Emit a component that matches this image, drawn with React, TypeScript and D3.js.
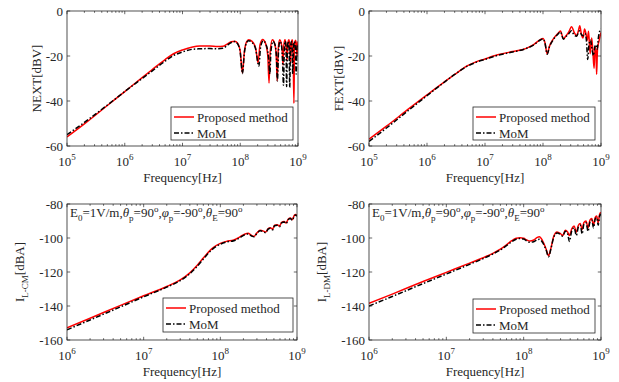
import React from 'react';
import * as d3 from 'd3';

type Pt = [number, number];

// ---------- data (frequency [Hz], value) ----------
const nextProposed: Pt[] = [
  [1e5, -56], [2e5, -50.2], [5e5, -42], [1e6, -35.8], [2e6, -29.6], [3e6, -26], [5e6, -21.6], [7e6, -19],
  [1e7, -17.3], [1.5e7, -16], [2e7, -15.6], [3e7, -15.5], [4e7, -15.8], [5e7, -15.7], [6e7, -14.6], [7e7, -13.7],
  [8e7, -13.4], [9e7, -14.3], [1e8, -18], [1.09e8, -27.5], [1.18e8, -18], [1.28e8, -13.8], [1.4e8, -12.8],
  [1.6e8, -13.5], [1.85e8, -16.5], [2.03e8, -23], [2.2e8, -15], [2.45e8, -12.7], [2.75e8, -14.5], [3.0e8, -20],
  [3.15e8, -32], [3.3e8, -18], [3.6e8, -12.8], [3.95e8, -14.5], [4.2e8, -20], [4.36e8, -31], [4.55e8, -17],
  [4.8e8, -12.8], [5.1e8, -14], [5.35e8, -18], [5.5e8, -24], [5.7e8, -15], [5.95e8, -12.8], [6.2e8, -15],
  [6.45e8, -22], [6.7e8, -14], [6.95e8, -12.8], [7.2e8, -15], [7.45e8, -23], [7.7e8, -14], [7.95e8, -12.8],
  [8.2e8, -16], [8.5e8, -41], [8.7e8, -16], [9.0e8, -13], [9.3e8, -14], [9.6e8, -20], [1e9, -13.5],
];
const nextMoM: Pt[] = [
  [1e5, -55], [2e5, -49.5], [5e5, -41.8], [1e6, -35.8], [2e6, -30], [3e6, -26.6], [5e6, -22.3], [7e6, -19.8],
  [1e7, -18.2], [1.5e7, -17], [2e7, -16.8], [3e7, -16.7], [4e7, -16.8], [5e7, -16.6], [6e7, -15.2], [7e7, -14],
  [8e7, -13.6], [9e7, -14.6], [1e8, -18.5], [1.09e8, -27.8], [1.18e8, -18.5], [1.28e8, -14.2], [1.4e8, -13.2],
  [1.6e8, -14], [1.85e8, -17], [2.1e8, -24.5], [2.25e8, -16], [2.5e8, -13.2], [2.8e8, -15], [3.1e8, -21],
  [3.25e8, -28], [3.4e8, -18], [3.7e8, -13.5], [4.0e8, -15], [4.25e8, -21], [4.4e8, -31], [4.6e8, -18],
  [4.85e8, -13.5], [5.15e8, -15], [5.4e8, -22], [5.6e8, -33], [5.8e8, -17], [6.0e8, -13.5], [6.2e8, -16],
  [6.35e8, -33.6], [6.55e8, -17], [6.8e8, -13.5], [7.0e8, -16], [7.2e8, -34], [7.4e8, -17], [7.7e8, -13.5],
  [7.9e8, -16], [8.1e8, -28], [8.35e8, -16], [8.7e8, -13.5], [9.0e8, -17], [9.3e8, -28], [9.6e8, -16], [1e9, -15],
];

const fextProposed: Pt[] = [
  [1e5, -57], [2e5, -51.2], [5e5, -43.2], [1e6, -37.3], [2e6, -31.5], [3e6, -28.2], [5e6, -24.3], [7e6, -22.6],
  [1e7, -21.3], [1.5e7, -19.8], [2e7, -19], [3e7, -18], [5e7, -16.7], [7e7, -14.8], [9e7, -12.7], [1e8, -12.2],
  [1.08e8, -14], [1.18e8, -19], [1.3e8, -15.5], [1.5e8, -12.5], [1.8e8, -10], [2e8, -8.9], [2.25e8, -12.3],
  [2.5e8, -11], [2.8e8, -9.2], [3.1e8, -7], [3.5e8, -9.8], [3.8e8, -11], [4.1e8, -8.5], [4.3e8, -6.5],
  [4.6e8, -10.5], [4.9e8, -12], [5.2e8, -8], [5.5e8, -10], [5.8e8, -13], [6.1e8, -9], [6.5e8, -19],
  [6.9e8, -12], [7.2e8, -17], [7.6e8, -25.5], [7.9e8, -16], [8.2e8, -18], [8.4e8, -28.2], [8.7e8, -17],
  [9.3e8, -13], [1e9, -9.5],
];
const fextMoM: Pt[] = [
  [1e5, -58], [2e5, -52], [5e5, -43.8], [1e6, -37.6], [2e6, -31.6], [3e6, -28.2], [5e6, -24.5], [7e6, -22.8],
  [1e7, -21.5], [1.5e7, -20], [2e7, -19.2], [3e7, -18.2], [5e7, -16.8], [7e7, -15], [9e7, -12.9], [1e8, -12.4],
  [1.08e8, -14.2], [1.18e8, -19.2], [1.3e8, -15.7], [1.5e8, -12.8], [1.8e8, -10.3], [2e8, -9.3], [2.25e8, -12.5],
  [2.5e8, -11.3], [2.8e8, -10], [3.1e8, -8.8], [3.4e8, -10.5], [3.8e8, -11.2], [4.1e8, -9.5], [4.3e8, -8.8],
  [4.6e8, -10.5], [5e8, -11], [5.3e8, -10], [5.6e8, -13], [5.9e8, -21.5], [6.2e8, -15], [6.6e8, -13],
  [7e8, -17], [7.4e8, -19.8], [7.8e8, -16], [8.2e8, -15], [8.6e8, -17], [9.0e8, -12], [9.5e8, -9], [1e9, -8],
];

const cmProposed: Pt[] = [
  [1e6, -152.8], [2e6, -147.2], [5e6, -139.6], [1e7, -134], [2e7, -128.5], [3e7, -124.7], [4e7, -120.5],
  [5e7, -116], [6e7, -111.8], [7e7, -108.3], [8e7, -105.8], [1e8, -103.2], [1.2e8, -102], [1.5e8, -101.2],
  [1.8e8, -99.3], [2.1e8, -97.6], [2.3e8, -97.2], [2.55e8, -98.5], [2.75e8, -99], [3.0e8, -97], [3.3e8, -95.5],
  [3.6e8, -95.8], [3.9e8, -96.5], [4.2e8, -94.5], [4.5e8, -94], [4.8e8, -94.8], [5.1e8, -92.5], [5.5e8, -92.2],
  [5.9e8, -93], [6.3e8, -90.8], [6.8e8, -90.3], [7.2e8, -91.2], [7.7e8, -88.8], [8.2e8, -88.3], [8.7e8, -89.2],
  [9.2e8, -86.8], [9.6e8, -86.2], [1e9, -86.8],
];
const cmMoM: Pt[] = [
  [1e6, -154], [2e6, -148.2], [5e6, -140.5], [1e7, -134.6], [2e7, -128.9], [3e7, -125.1], [4e7, -121],
  [5e7, -116.6], [6e7, -112.4], [7e7, -108.9], [8e7, -106.4], [1e8, -103.7], [1.2e8, -102.4], [1.5e8, -101.6],
  [1.8e8, -99.8], [2.1e8, -98], [2.3e8, -97.6], [2.55e8, -98.8], [2.75e8, -99.3], [3.0e8, -97.3], [3.3e8, -95.8],
  [3.6e8, -96.1], [3.9e8, -96.9], [4.2e8, -94.8], [4.5e8, -94.3], [4.8e8, -95.2], [5.1e8, -92.8], [5.5e8, -92.5],
  [5.9e8, -93.4], [6.3e8, -91.1], [6.8e8, -90.6], [7.2e8, -91.6], [7.7e8, -89.1], [8.2e8, -88.6], [8.7e8, -89.6],
  [9.2e8, -87.1], [9.6e8, -86.5], [1e9, -87.2],
];

const dmProposed: Pt[] = [
  [1e6, -138.4], [2e6, -133], [5e6, -125.6], [1e7, -120.2], [2e7, -114.8], [3e7, -111.6], [4e7, -109],
  [5e7, -106.6], [6e7, -104], [7e7, -101.6], [8e7, -100.2], [9e7, -99.9], [1e8, -100.2], [1.1e8, -101.2],
  [1.2e8, -101.8], [1.35e8, -101.2], [1.5e8, -99.6], [1.6e8, -99.3], [1.75e8, -101.5], [1.95e8, -106.5],
  [2.1e8, -110.5], [2.25e8, -106], [2.45e8, -99], [2.7e8, -96.5], [3.0e8, -97.5], [3.2e8, -98.5], [3.45e8, -95.5],
  [3.7e8, -96.5], [3.9e8, -98.5], [4.2e8, -94.5], [4.5e8, -93], [4.8e8, -96.5], [5.1e8, -92.5], [5.4e8, -91.5],
  [5.7e8, -95], [6.0e8, -91], [6.4e8, -90], [6.8e8, -94], [7.2e8, -89.5], [7.6e8, -88.5], [8.0e8, -92.5],
  [8.4e8, -88], [8.8e8, -87], [9.2e8, -91], [9.6e8, -86], [1e9, -85],
];
const dmMoM: Pt[] = [
  [1e6, -140], [2e6, -134.4], [5e6, -126.8], [1e7, -121.2], [2e7, -115.5], [3e7, -112.1], [4e7, -109.4],
  [5e7, -107], [6e7, -104.5], [7e7, -102.2], [8e7, -100.7], [9e7, -100.3], [1e8, -100.6], [1.1e8, -101.7],
  [1.2e8, -102.5], [1.35e8, -102.2], [1.5e8, -101], [1.6e8, -100.8], [1.75e8, -102.5], [1.95e8, -107],
  [2.1e8, -111], [2.25e8, -106.5], [2.45e8, -99.5], [2.7e8, -97], [3.0e8, -98], [3.2e8, -99], [3.45e8, -96],
  [3.7e8, -97.5], [3.9e8, -102], [4.2e8, -95.5], [4.5e8, -94], [4.8e8, -98.5], [5.1e8, -93.5], [5.4e8, -92.5],
  [5.7e8, -97.5], [6.0e8, -92], [6.4e8, -91], [6.8e8, -96], [7.2e8, -90.5], [7.6e8, -89.5], [8.0e8, -94],
  [8.4e8, -89], [8.8e8, -88], [9.2e8, -92.5], [9.6e8, -87], [1e9, -86],
];

const xTicksTop = [1e5, 1e6, 1e7, 1e8, 1e9];
const xTicksBottom = [1e6, 1e7, 1e8, 1e9];
const yTicksTop = [-60, -40, -20, 0];
const yTicksBottom = [-160, -140, -120, -100, -80];
const legendLabels = ['Proposed method', 'MoM'];
const xLabel = 'Frequency[Hz]';

const FONT = '"Liberation Serif", "Times New Roman", Times, serif';
const INK = '#262626';
const RED = '#ff0000';
const DASH = '5,2,1.5,2';

type Seg = { t: string; k?: 'sub' | 'sup' | 'it' };

const annotation: Seg[] = [
  { t: 'E' }, { t: '0', k: 'sub' }, { t: '=1V/m,' },
  { t: 'θ', k: 'it' }, { t: 'p', k: 'sub' }, { t: '=90' }, { t: 'o', k: 'sup' }, { t: ',' },
  { t: 'φ', k: 'it' }, { t: 'p', k: 'sub' }, { t: '=-90' }, { t: 'o', k: 'sup' }, { t: ',' },
  { t: 'θ', k: 'it' }, { t: 'E', k: 'sub' }, { t: '=90' }, { t: 'o', k: 'sup' },
];

function richSpans(segs: Seg[], small: number) {
  let cur = 0;
  return segs.map((s, i) => {
    const target = s.k === 'sub' ? 4 : s.k === 'sup' ? -5 : 0;
    const dy = target - cur;
    cur = target;
    return (
      <tspan key={i} dy={dy}
        fontSize={s.k === 'sub' || s.k === 'sup' ? small : undefined}
        fontStyle={s.k === 'it' ? 'italic' : undefined}>{s.t}</tspan>
    );
  });
}

interface PanelProps {
  box: { l: number; r: number; t: number; b: number };
  xDomain: [number, number];
  yDomain: [number, number];
  xTicks: number[];
  yTicks: number[];
  proposed: Pt[];
  mom: Pt[];
  yLabel: Seg[];
  yLabelX: number;
  legendBox: { x: number; y: number; w: number; h: number };
  note?: boolean;
}

function Panel(p: PanelProps) {
  const { box } = p;
  const x = d3.scaleLog().domain(p.xDomain).range([box.l, box.r]);
  const y = d3.scaleLinear().domain(p.yDomain).range([box.b, box.t]);
  const line = d3.line<Pt>().x(d => x(d[0])).y(d => y(d[1])).curve(d3.curveMonotoneX);
  const minor: number[] = [];
  const lo = Math.round(Math.log10(p.xDomain[0]));
  const hi = Math.round(Math.log10(p.xDomain[1]));
  for (let e = lo; e < hi; e++) for (let m = 2; m <= 9; m++) minor.push(m * Math.pow(10, e));
  const tl = 3.2;
  const ml = 1.8;
  const clipId = `clip${box.l}_${box.t}`;
  const lg = p.legendBox;
  return (
    <g fontFamily={FONT} fill={INK}>
      <defs>
        <clipPath id={clipId}><rect x={box.l} y={box.t} width={box.r - box.l} height={box.b - box.t} /></clipPath>
      </defs>
      <rect x={box.l} y={box.t} width={box.r - box.l} height={box.b - box.t} fill="#fff" />
      <g clipPath={`url(#${clipId})`} fill="none">
        <path d={line(p.proposed) || ''} stroke={RED} strokeWidth={1.5} />
        <path d={line(p.mom) || ''} stroke="#000" strokeWidth={1.5} strokeDasharray={DASH} />
      </g>
      {/* ticks */}
      <g stroke={INK} strokeWidth={0.7}>
        {p.xTicks.map(v => (
          <g key={'xt' + v}>
            <line x1={x(v)} x2={x(v)} y1={box.b} y2={box.b - tl} />
            <line x1={x(v)} x2={x(v)} y1={box.t} y2={box.t + tl} />
          </g>
        ))}
        {minor.map(v => (
          <g key={'xm' + v}>
            <line x1={x(v)} x2={x(v)} y1={box.b} y2={box.b - ml} />
            <line x1={x(v)} x2={x(v)} y1={box.t} y2={box.t + ml} />
          </g>
        ))}
        {p.yTicks.map(v => (
          <g key={'yt' + v}>
            <line x1={box.l} x2={box.l + tl} y1={y(v)} y2={y(v)} />
            <line x1={box.r} x2={box.r - tl} y1={y(v)} y2={y(v)} />
          </g>
        ))}
      </g>
      <rect x={box.l} y={box.t} width={box.r - box.l} height={box.b - box.t} fill="none" stroke={INK} strokeWidth={0.8} />
      {/* tick labels */}
      {p.yTicks.map(v => (
        <text key={'yl' + v} x={box.l - 4} y={y(v)} dy="0.35em" textAnchor="end" fontSize={13}>{v}</text>
      ))}
      {p.xTicks.map(v => (
        <text key={'xl' + v} x={x(v)} y={box.b + 20} textAnchor="middle" fontSize={13}>
          <tspan>10</tspan>
          <tspan dy={-6} fontSize={9}>{Math.round(Math.log10(v))}</tspan>
        </text>
      ))}
      <text x={(box.l + box.r) / 2} y={box.b + 35.5} textAnchor="middle" fontSize={13}>{xLabel}</text>
      <text transform={`translate(${p.yLabelX},${(box.t + box.b) / 2}) rotate(-90)`} textAnchor="middle" fontSize={13}>
        {richSpans(p.yLabel, 9)}
      </text>
      {p.note && (
        <text x={box.l + 3} y={box.t + 12.5} fontSize={13}>{richSpans(annotation, 9)}</text>
      )}
      {/* legend */}
      <g>
        <rect x={lg.x} y={lg.y} width={lg.w} height={lg.h} fill="#fff" stroke={INK} strokeWidth={0.8} />
        <line x1={lg.x + 3} x2={lg.x + 23} y1={lg.y + 10} y2={lg.y + 10} stroke={RED} strokeWidth={1.5} />
        <line x1={lg.x + 3} x2={lg.x + 23} y1={lg.y + 26} y2={lg.y + 26} stroke="#000" strokeWidth={1.5} strokeDasharray={DASH} />
        <text x={lg.x + 26} y={lg.y + 10} dy="0.35em" fontSize={13}>{legendLabels[0]}</text>
        <text x={lg.x + 26} y={lg.y + 26} dy="0.35em" fontSize={13}>{legendLabels[1]}</text>
      </g>
    </g>
  );
}

export default function App() {
  return (
    <svg width={619} height={382} style={{ position: 'absolute', left: 0, top: 0, background: '#fff' }}>
      <rect width={619} height={382} fill="#fff" />
      <Panel box={{ l: 67, r: 298, t: 11, b: 146 }} xDomain={[1e5, 1e9]} yDomain={[-60, 0]}
        xTicks={xTicksTop} yTicks={yTicksTop} proposed={nextProposed} mom={nextMoM}
        yLabel={[{ t: 'NEXT[dBV]' }]} yLabelX={41}
        legendBox={{ x: 171, y: 107, w: 122, h: 33 }} />
      <Panel box={{ l: 369, r: 601, t: 11, b: 146 }} xDomain={[1e5, 1e9]} yDomain={[-60, 0]}
        xTicks={xTicksTop} yTicks={yTicksTop} proposed={fextProposed} mom={fextMoM}
        yLabel={[{ t: 'FEXT[dBV]' }]} yLabelX={342.5}
        legendBox={{ x: 473, y: 107, w: 122, h: 33 }} />
      <Panel box={{ l: 67, r: 297, t: 204, b: 340 }} xDomain={[1e6, 1e9]} yDomain={[-160, -80]}
        xTicks={xTicksBottom} yTicks={yTicksBottom} proposed={cmProposed} mom={cmMoM}
        yLabel={[{ t: 'I' }, { t: 'L-CM', k: 'sub' }, { t: '[dBA]' }]} yLabelX={23.5}
        legendBox={{ x: 163, y: 298, w: 130, h: 34 }} note />
      <Panel box={{ l: 369, r: 601, t: 204, b: 340 }} xDomain={[1e6, 1e9]} yDomain={[-160, -80]}
        xTicks={xTicksBottom} yTicks={yTicksBottom} proposed={dmProposed} mom={dmMoM}
        yLabel={[{ t: 'I' }, { t: 'L-DM', k: 'sub' }, { t: '[dBA]' }]} yLabelX={325.5}
        legendBox={{ x: 473, y: 299, w: 122, h: 34 }} note />
    </svg>
  );
}
